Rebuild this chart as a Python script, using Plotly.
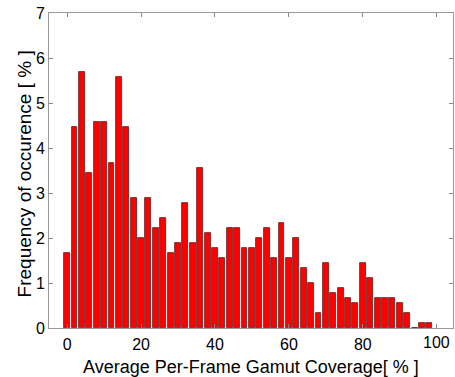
import plotly.graph_objects as go

bin_centers = list(range(0, 100, 2))
frequency = [1.67, 4.46, 5.70, 3.45, 4.57, 4.57, 3.67, 5.57, 4.46, 2.89,
             1.99, 2.89, 2.22, 2.44, 1.67, 1.89, 2.78, 1.89, 3.56, 2.11,
             1.78, 1.56, 2.22, 2.22, 1.78, 1.78, 2.00, 2.22, 1.56, 2.34,
             1.56, 2.00, 1.33, 1.00, 0.33, 1.44, 0.78, 0.89, 0.67, 0.56,
             1.44, 1.11, 0.67, 0.67, 0.67, 0.56, 0.33, 0.0, 0.11, 0.11]
x_ticks = [0, 20, 40, 60, 80, 100]
y_ticks = [0, 1, 2, 3, 4, 5, 6, 7]
x_title = "Average Per-Frame Gamut Coverage[ % ]"
y_title = "Frequency of occurence [ % ]"

FONT = "Liberation Sans, Arial"
X_RANGE = [-4.9, 104.4]

fig = go.Figure(go.Bar(
    x=bin_centers, y=frequency, width=1.6,
    marker=dict(color="#ff0000", line=dict(color="#5a2020", width=0.8)),
))

axis_common = dict(
    showgrid=False, zeroline=False, showline=True, linecolor="#999999", linewidth=1,
    mirror="ticks", ticks="inside", ticklen=4, tickcolor="#888888", tickwidth=1,
    tickfont=dict(family=FONT, size=16, color="black"),
    ticklabeloverflow="allow",
)

# The last x tick label sits too close to the plot edge for Plotly to draw it,
# so it is placed as paper-referenced text at the same axis fraction.
x_ticktext = [str(v) for v in x_ticks[:-1]] + [""]
last_frac = (x_ticks[-1] - X_RANGE[0]) / (X_RANGE[1] - X_RANGE[0])

fig.update_layout(
    width=455, height=377,
    margin=dict(l=49, r=2, t=13, b=49),
    plot_bgcolor="white", paper_bgcolor="white",
    showlegend=False,
    bargap=0,
    xaxis=dict(range=X_RANGE, tickmode="array", tickvals=x_ticks,
               ticktext=x_ticktext, ticklabelstandoff=2, **axis_common),
    yaxis=dict(range=[0, 7], tickmode="array", tickvals=y_ticks,
               ticktext=[str(v) for v in y_ticks], **axis_common),
    annotations=[
        dict(text=str(x_ticks[-1]), xref="paper", yref="paper", x=last_frac, y=-0.0465,
             xanchor="center", yanchor="middle", showarrow=False,
             font=dict(family=FONT, size=16, color="black")),
        dict(text=x_title, xref="paper", yref="paper", x=0.5, y=-0.161,
             xanchor="center", yanchor="bottom", showarrow=False,
             font=dict(family=FONT, size=18, color="black")),
        dict(text=y_title, xref="paper", yref="paper", x=-0.06, y=0.49,
             xanchor="center", yanchor="middle", textangle=-90, showarrow=False,
             font=dict(family=FONT, size=19, color="black")),
    ],
)

fig.write_html("out.html")
